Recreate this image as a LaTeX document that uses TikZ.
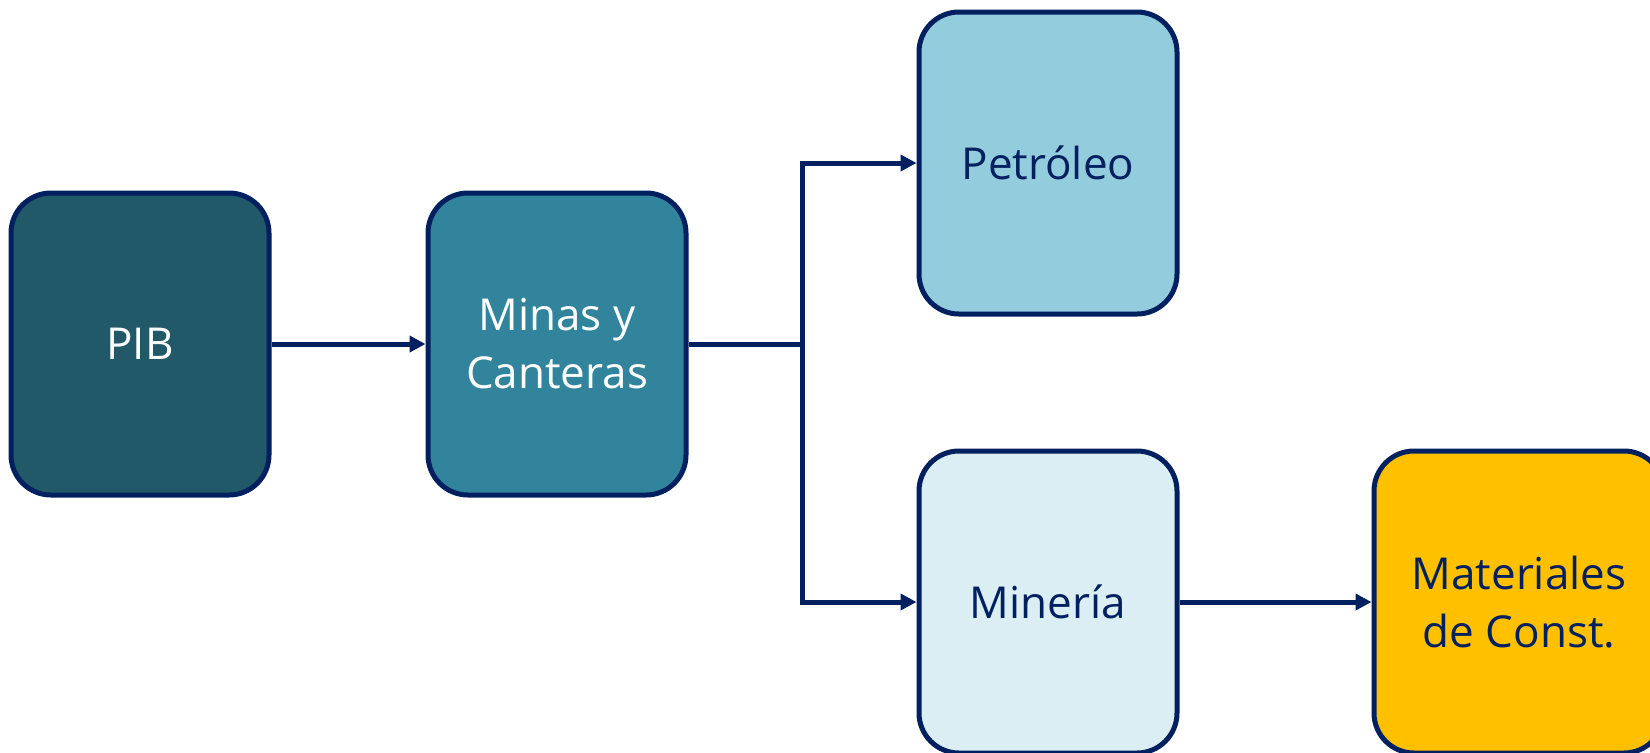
\documentclass[tikz,border=0pt]{standalone}
\usepackage{fontspec}
\setmainfont{Open Sans}
\usetikzlibrary{arrows.meta, positioning}

\definecolor{navy}{HTML}{002060}
\definecolor{tealdark}{HTML}{215968}
\definecolor{tealmid}{HTML}{31849B}
\definecolor{bluelight}{HTML}{93CDDD}
\definecolor{bluepale}{HTML}{DAEEF3}
\definecolor{gold}{HTML}{FFC000}

\begin{document}
\begin{tikzpicture}[
    x=0.5pt, y=-0.5pt,
    box/.style={
        draw=navy,
        line width=2.5pt,
        rounded corners=20pt,
        minimum width=129pt,
        minimum height=151pt,
        align=center,
        font=\fontsize{22}{29}\selectfont,
        text=navy
    },
    arrow/.style={-{Triangle[length=8pt,width=8pt]}, draw=navy, line width=2.5pt},
    link/.style={draw=navy, line width=2.5pt}
]
\useasboundingbox (0,0) rectangle (1650,752);

\node[box, fill=tealdark, text=white] (pib) at (140,344) {PIB};
\node[box, fill=tealmid, text=white, right=77pt of pib] (minas) {Minas y\\Canteras};
\node[box, fill=bluelight] (petroleo) at (1048,163) {Petróleo};
\node[box, fill=bluepale, below=66pt of petroleo] (mineria) {Minería};
\node[box, fill=gold, minimum width=145pt, right=96pt of mineria] (materiales) {Materiales\\de Const.};

\coordinate (split) at (802,344);

\draw[arrow] (pib) -- (minas);
\draw[link] (minas) -- (split);
\draw[arrow] (split) |- (petroleo.west);
\draw[arrow] (split) |- (mineria.west);
\draw[arrow] (mineria) -- (materiales);
\end{tikzpicture}
\end{document}
